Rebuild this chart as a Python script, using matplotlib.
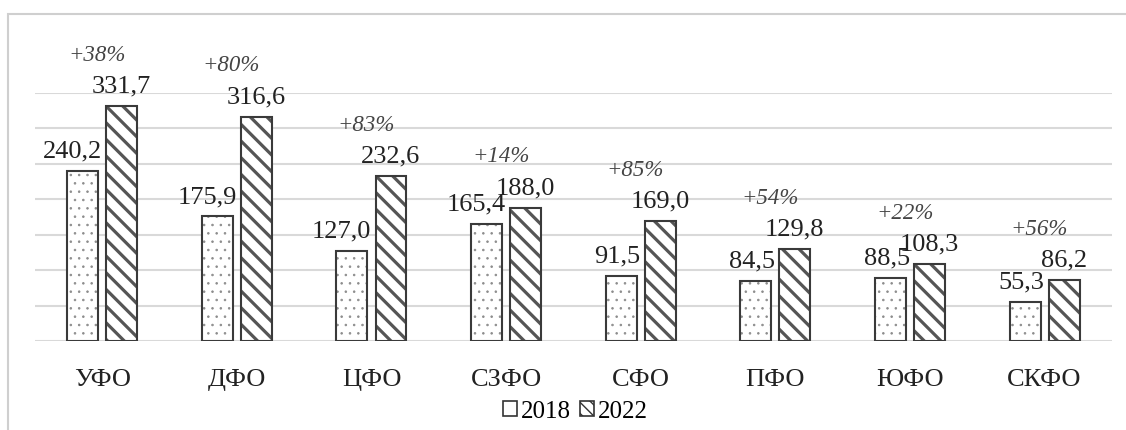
import matplotlib as mpl
import matplotlib.pyplot as plt
import numpy as np
from matplotlib.patches import Rectangle, Patch

regions = ["УФО", "ДФО", "ЦФО", "СЗФО", "СФО", "ПФО", "ЮФО", "СКФО"]
v2018 = [240.2, 175.9, 127.0, 165.4, 91.5, 84.5, 88.5, 55.3]
v2022 = [331.7, 316.6, 232.6, 188.0, 169.0, 129.8, 108.3, 86.2]

plt.rcParams['font.family'] = ['Liberation Serif', 'DejaVu Serif']

fig = plt.figure(figsize=(11.26, 4.30), dpi=100)
ax = fig.add_axes([0.031, 0.207, 0.9565, 0.577])

x = np.arange(len(regions))
w = 0.23
off = 0.145

# заливка штриховкой, контур отдельно
with mpl.rc_context({'hatch.linewidth': 0.6}):
    b1 = ax.bar(x - off, v2018, w, color="white", edgecolor="#8c8c8c", hatch="..", linewidth=0, zorder=2)
with mpl.rc_context({'hatch.linewidth': 2.3}):
    b2 = ax.bar(x + off, v2022, w, color="white", edgecolor="#555555", hatch="\\\\", linewidth=0, zorder=2)
for p in b1:
    if hasattr(p, "set_hatch_linewidth"):
        p.set_hatch_linewidth(0.6)
for p in b2:
    if hasattr(p, "set_hatch_linewidth"):
        p.set_hatch_linewidth(2.3)
ax.bar(x - off, v2018, w, fill=False, edgecolor="#3a3a3a", linewidth=1.5, zorder=3)
ax.bar(x + off, v2022, w, fill=False, edgecolor="#3a3a3a", linewidth=1.5, zorder=3)

def fmt(v):
    return f"{v:.1f}".replace(".", ",")

for i in range(len(regions)):
    ax.annotate(fmt(v2018[i]), xy=(x[i] - off + w / 2 + 0.03, v2018[i]), xytext=(0, 6),
                textcoords="offset points", ha="right", va="bottom", fontsize=19,
                color="#222222", annotation_clip=False)
    ax.annotate(fmt(v2022[i]), xy=(x[i] + off, v2022[i]), xytext=(0, 6),
                textcoords="offset points", ha="center", va="bottom", fontsize=19,
                color="#222222", annotation_clip=False)
    pct = round((v2022[i] / v2018[i] - 1) * 100)
    ax.annotate(f"+{pct}%", xy=(x[i] - 0.04, v2022[i]), xytext=(0, 29),
                textcoords="offset points", ha="center", va="bottom", fontsize=16.5,
                style="italic", color="#444444", annotation_clip=False)

ax.set_xlim(-0.5, len(regions) - 0.5)
ax.set_ylim(0, 350)
ax.set_yticks(np.arange(0, 351, 50))
ax.yaxis.grid(True, color="#d9d9d9", linewidth=1.5, zorder=0)
ax.set_axisbelow(True)
ax.tick_params(axis="y", left=False, labelleft=False)
ax.tick_params(axis="x", length=0, pad=20, labelsize=19, labelcolor="#222222")
ax.set_xticks(x)
ax.set_xticklabels(regions)
for s in ax.spines.values():
    s.set_visible(False)

handles = [Patch(facecolor="white", edgecolor="#333333", hatch="", linewidth=1.2, label="2018"),
           Patch(facecolor="white", edgecolor="#333333", hatch="\\\\\\", linewidth=1.2, label="2022")]
fig.legend(handles=handles, loc="center", bbox_to_anchor=(0.511, 0.043), ncol=2, frameon=False,
           fontsize=18, handlelength=0.55, handleheight=0.55, handletextpad=0.15, columnspacing=0.4)

# рамка вокруг области диаграммы
fig.patches.append(Rectangle((8 / 1126, -0.05), 1.2, 1 - 14 / 430 + 0.05, transform=fig.transFigure,
                             fill=False, edgecolor="#cfcfcf", linewidth=1.5, zorder=0))

fig.savefig("out.png", dpi=100)
